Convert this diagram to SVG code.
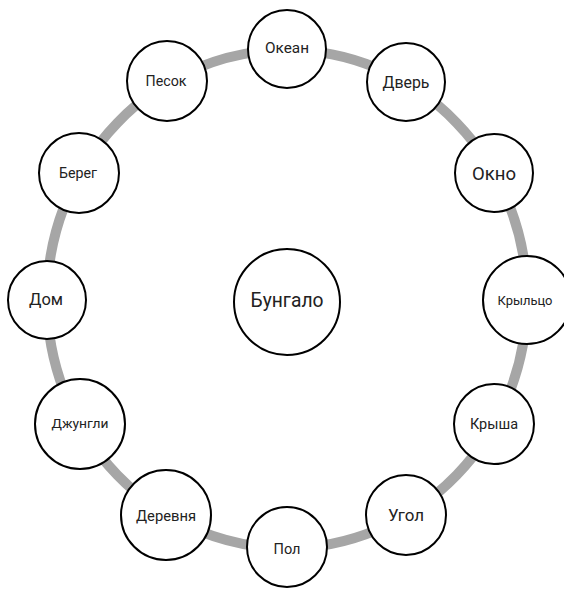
<svg xmlns="http://www.w3.org/2000/svg" width="564" height="590" viewBox="0 0 564 590">
<style>
.n{fill:#fff;stroke:#000;stroke-width:2}
.t{font-family:Roboto,"Noto Sans","Liberation Sans",sans-serif;fill:#222;text-anchor:middle;dominant-baseline:central}
.ring{fill:none;stroke:#a6a6a6;stroke-width:10}
</style>
<rect width="564" height="590" fill="#fff"/>
<g id="connectors">
<ellipse class="ring" cx="287" cy="299" rx="240" ry="249"/>
</g>
<g id="center"><circle class="n" cx="287" cy="302" r="53"/><text class="t" x="287" y="300" font-size="20" textLength="73" lengthAdjust="spacingAndGlyphs">Бунгало</text></g>
<g id="okean"><circle class="n" cx="287" cy="49" r="39"/><text class="t" x="287" y="48" font-size="14" textLength="44" lengthAdjust="spacingAndGlyphs">Океан</text></g>
<g id="dver"><circle class="n" cx="406" cy="82" r="39"/><text class="t" x="406" y="82" font-size="16" textLength="47" lengthAdjust="spacingAndGlyphs">Дверь</text></g>
<g id="okno"><circle class="n" cx="494" cy="173" r="39"/><text class="t" x="494" y="173" font-size="18" textLength="44" lengthAdjust="spacingAndGlyphs">Окно</text></g>
<g id="krylco"><circle class="n" cx="527" cy="300" r="44"/><text class="t" x="525" y="300" font-size="13" textLength="55" lengthAdjust="spacingAndGlyphs">Крыльцо</text></g>
<g id="krysha"><circle class="n" cx="494" cy="424" r="40"/><text class="t" x="494" y="424" font-size="15" textLength="48" lengthAdjust="spacingAndGlyphs">Крыша</text></g>
<g id="ugol"><circle class="n" cx="406" cy="515" r="40"/><text class="t" x="406" y="515" font-size="16" textLength="36" lengthAdjust="spacingAndGlyphs">Угол</text></g>
<g id="pol"><circle class="n" cx="287" cy="547" r="40"/><text class="t" x="287" y="549" font-size="14" textLength="27" lengthAdjust="spacingAndGlyphs">Пол</text></g>
<g id="derevnya"><circle class="n" cx="166" cy="515" r="45"/><text class="t" x="166" y="516" font-size="14" textLength="60" lengthAdjust="spacingAndGlyphs">Деревня</text></g>
<g id="dzhungli"><circle class="n" cx="80" cy="424" r="45"/><text class="t" x="80" y="423" font-size="13" textLength="57" lengthAdjust="spacingAndGlyphs">Джунгли</text></g>
<g id="dom"><circle class="n" cx="47" cy="300" r="39"/><text class="t" x="46" y="299" font-size="17" textLength="34" lengthAdjust="spacingAndGlyphs">Дом</text></g>
<g id="bereg"><circle class="n" cx="79" cy="173" r="40"/><text class="t" x="78" y="173" font-size="14" textLength="38" lengthAdjust="spacingAndGlyphs">Берег</text></g>
<g id="pesok"><circle class="n" cx="167" cy="81" r="40"/><text class="t" x="166" y="81" font-size="14" textLength="41" lengthAdjust="spacingAndGlyphs">Песок</text></g>
</svg>
